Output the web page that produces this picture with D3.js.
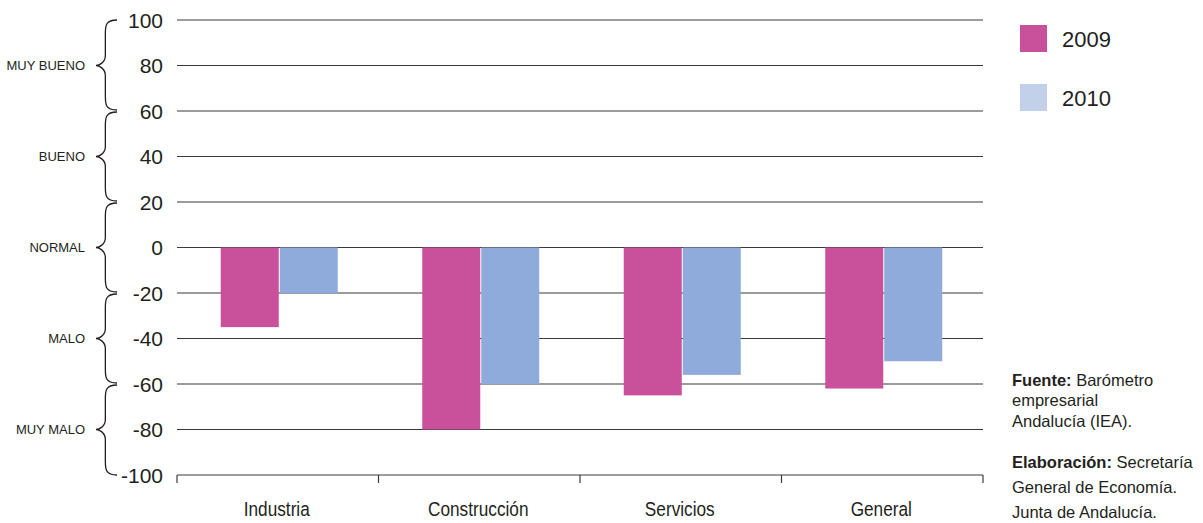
<!DOCTYPE html>
<html><head><meta charset="utf-8">
<script src="https://cdn.jsdelivr.net/npm/d3@7"></script>
<style>body{margin:0;background:#fff}svg{display:block}</style>
</head><body>
<svg id="c" width="1203" height="523"></svg>
<script>
const categories = ["Industria","Construcción","Servicios","General"];
const series = ["2009","2010"];
const values2009 = [-35,-80,-65,-62];
const values2010 = [-20,-60,-56,-50];
const yTicks = [100,80,60,40,20,0,-20,-40,-60,-80,-100];
const regions = [
  {label:"MUY BUENO", from:100, to:60, mid:80},
  {label:"BUENO", from:60, to:20, mid:40},
  {label:"NORMAL", from:20, to:-20, mid:0},
  {label:"MALO", from:-20, to:-60, mid:-40},
  {label:"MUY MALO", from:-60, to:-100, mid:-80}
];
const barColors = ["#c9509a","#8eabdb"];
const legendColors = ["#c9509a","#c2d0ea"];

const font = "'Liberation Sans',Arial,sans-serif";
const svg = d3.select("#c");
const x0 = d3.scaleBand().domain(categories).range([178,984]);
const y = d3.scaleLinear().domain([-100,100]).range([475,20]);
const x1 = d3.scaleBand().domain(series).range([0,116]);

// gridlines
svg.append("g").selectAll("line").data(yTicks.filter(d=>d>-100)).join("line")
  .attr("x1",177).attr("x2",983).attr("y1",d=>y(d)).attr("y2",d=>y(d))
  .attr("stroke","#3a3a3a").attr("stroke-width",1.2);

// y tick labels
svg.append("g").selectAll("text").data(yTicks).join("text")
  .attr("x",163).attr("y",d=>y(d)).attr("dy","0.36em")
  .attr("text-anchor","end").attr("font-family",font).attr("font-size",21)
  .attr("fill","#231f20").text(d=>d);

// bars
const data = categories.map((c,i)=>({c, v:[values2009[i],values2010[i]]}));
const g = svg.append("g");
data.forEach(d=>{
  series.forEach((s,j)=>{
    const v = d.v[j];
    g.append("rect")
      .attr("x", x0(d.c) + (x0.bandwidth()-116)/2 + x1(s) + (j===1?1:0))
      .attr("width", 58)
      .attr("y", y(Math.max(0,v)))
      .attr("height", Math.abs(y(v)-y(0)))
      .attr("fill", barColors[j]);
  });
});

// bottom axis
const ax = svg.append("g").attr("transform","translate(0,475)");
ax.append("line").attr("x1",177).attr("x2",983).attr("stroke","#3a3a3a").attr("stroke-width",1.2);
const bounds = [177, ...categories.map(c=>x0(c)+x0.bandwidth()-1)];
ax.selectAll("line.t").data(bounds).join("line").attr("class","t")
  .attr("x1",d=>d).attr("x2",d=>d).attr("y1",0).attr("y2",8)
  .attr("stroke","#3a3a3a").attr("stroke-width",1.2);
ax.selectAll("text").data(categories).join("text")
  .attr("transform",d=>`translate(${x0(d)+x0.bandwidth()/2-2},41) scale(0.84,1)`)
  .attr("text-anchor","middle").attr("font-family",font).attr("font-size",20.5)
  .attr("fill","#231f20").text(d=>d);

// braces
function brace(yTop, yBot, yMid, xr, xl){
  const w = xr - xl;
  const xm = xr - w*0.45;
  return `M${xr+4},${yTop} C${xm},${yTop} ${xm},${yTop+6} ${xm},${yTop+14}`+
    ` L${xm},${yMid-10} C${xm},${yMid-3} ${xl+3},${yMid} ${xl},${yMid}`+
    ` C${xl+3},${yMid} ${xm},${yMid+3} ${xm},${yMid+10}`+
    ` L${xm},${yBot-14} C${xm},${yBot-6} ${xm},${yBot} ${xr+4},${yBot}`;
}
const bg = svg.append("g");
regions.forEach((r,i)=>{
  bg.append("path").attr("d",brace(y(r.from)+(i===0?0:1), y(r.to)-(i===regions.length-1?0:1), y(r.mid), 113, 96))
    .attr("fill","none").attr("stroke","#231f20").attr("stroke-width",1.3);
  bg.append("text").attr("x",85).attr("y",y(r.mid)).attr("dy","0.36em")
    .attr("text-anchor","end").attr("font-family",font).attr("font-size",13)
    .attr("fill","#231f20").text(r.label);
});

// legend
const lg = svg.append("g");
series.forEach((s,j)=>{
  lg.append("rect").attr("x",1020).attr("y",25+j*59).attr("width",27).attr("height",27).attr("fill",legendColors[j]);
  lg.append("text").attr("x",1062).attr("y",39+j*59).attr("dy","0.36em")
    .attr("font-family",font).attr("font-size",22).attr("fill","#231f20").text(s);
});

// source
const src = [
  [{t:"Fuente:",b:true},{t:" Barómetro"}],
  [{t:"empresarial"}],
  [{t:"Andalucía (IEA)."}],
  null,
  [{t:"Elaboración:",b:true},{t:" Secretaría"}],
  [{t:"General de Economía."}],
  [{t:"Junta de Andalucía."}]
];
const sy = [386,406,427,null,468,493,518];
src.forEach((line,i)=>{
  if(!line) return;
  const t = svg.append("text").attr("x",1012).attr("y",sy[i])
    .attr("font-family",font).attr("font-size",16.5).attr("fill","#231f20");
  line.forEach(p=>t.append("tspan").attr("font-weight",p.b?"bold":"normal").text(p.t));
});
</script>
</body></html>
